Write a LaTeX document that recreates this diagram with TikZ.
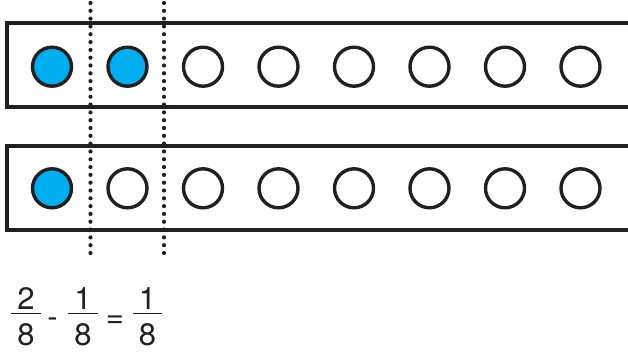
\documentclass[tikz,border=0pt]{standalone}
\usepackage{fontspec}
\setmainfont{TeX Gyre Heros}
\definecolor{ink}{HTML}{231F20}
\definecolor{fill}{HTML}{00AEEF}
\begin{document}
\begin{tikzpicture}[x=1pt,y=-1pt,
  frame/.style={draw=ink,line width=4pt},
  bead/.style={circle,draw=ink,line width=3.4pt,minimum size=39pt,inner sep=0pt,fill=white},
  full/.style={bead,fill=fill},
  guide/.style={draw=ink,line width=4.2pt,line cap=round,dash pattern=on 0pt off 7.8125pt},
  num/.style={inner sep=0pt,anchor=base,text=ink,font=\fontsize{31}{34}\selectfont},
  bar/.style={draw=ink,line width=1.8pt}]
\useasboundingbox (0,0) rectangle (628,352);
\clip (0,0) rectangle (628,352);
% frames
\draw[frame] (640,23.3) -- (7.3,23.3) -- (7.3,107.5) -- (640,107.5);
\draw[frame] (640,145.7) -- (7.3,145.7) -- (7.3,230) -- (640,230);
% top row
\foreach \i in {0,...,7} {
  \pgfmathsetmacro{\xx}{52+75.5*\i}
  \ifnum\i<2
    \node[full] (t\i) at (\xx,66.7) {};
  \else
    \node[bead] (t\i) at (\xx,66.7) {};
  \fi
}
% bottom row
\foreach \i in {0,...,7} {
  \pgfmathsetmacro{\xx}{52+75.5*\i}
  \ifnum\i<1
    \node[full] (b\i) at (\xx,188.3) {};
  \else
    \node[bead] (b\i) at (\xx,188.3) {};
  \fi
}
% dotted guides
\coordinate (g1t) at (90.5,3);
\coordinate (g1b) at (90.5,253);
\coordinate (g2t) at (164,3);
\coordinate (g2b) at (164,253);
\draw[guide] (g1t) -- (g1b);
\draw[guide] (g2t) -- (g2b);
% equation
\node[num] (n1) at (26,309) {2};
\node[num] (d1) at (26,345) {8};
\draw[bar] (11,313.5) -- (41,313.5);
\node[num] (m) at (52.5,327) {-};
\node[num] (n2) at (83,309) {1};
\node[num] (d2) at (83,345) {8};
\draw[bar] (68,313.5) -- (98,313.5);
\node[num] (eq) at (115,327) {=};
\node[num] (n3) at (147.5,309) {1};
\node[num] (d3) at (147.5,345) {8};
\draw[bar] (133,313.5) -- (162,313.5);
\end{tikzpicture}
\end{document}
